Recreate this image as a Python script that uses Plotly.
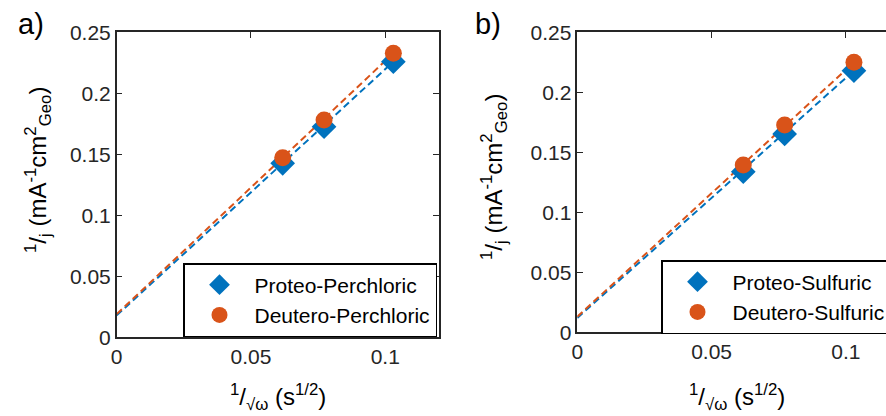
import plotly.graph_objects as go

# ---------------- data ----------------
inv_sqrt_omega = [0.0618, 0.0772, 0.1030]          # 1/sqrt(w) (s^1/2)

proteo_perchloric = [0.1426, 0.1726, 0.2259]
deutero_perchloric = [0.1472, 0.1781, 0.2328]
proteo_sulfuric = [0.1338, 0.1653, 0.2180]
deutero_sulfuric = [0.1394, 0.1728, 0.2250]

# linear fits (intercept, slope)
fit_a_proteo = (0.0180, 2.018)
fit_a_deutero = (0.0190, 2.076)
fit_b_proteo = (0.0120, 2.000)
fit_b_deutero = (0.0130, 2.058)
fit_x = [0.0, 0.1030]

x_ticks = [0, 0.05, 0.1]
x_tick_text = ["0", "0.05", "0.1"]
y_ticks = [0, 0.05, 0.1, 0.15, 0.2, 0.25]
y_tick_text = ["0", "0.05", "0.1", "0.15", "0.2", "0.25"]

BLUE = "#0072BD"
ORANGE = "#D95319"
AX = "#262626"
FONT = "Liberation Sans, Arial, sans-serif"

W, H = 886, 416

fig = go.Figure()


def line_y(fit, xs):
    return [fit[0] + fit[1] * x for x in xs]


panels = [
    ("x", "y", fit_a_proteo, fit_a_deutero, proteo_perchloric, deutero_perchloric,
     "Proteo-Perchloric", "Deutero-Perchloric", "legend"),
    ("x2", "y2", fit_b_proteo, fit_b_deutero, proteo_sulfuric, deutero_sulfuric,
     "Proteo-Sulfuric", "Deutero-Sulfuric", "legend2"),
]

for xa, ya, fp, fd, yp, yd, np_, nd, lg in panels:
    fig.add_trace(go.Scatter(x=fit_x, y=line_y(fp, fit_x), mode="lines",
                             line=dict(color=BLUE, width=2, dash="7px,4px"),
                             xaxis=xa, yaxis=ya, showlegend=False, hoverinfo="skip"))
    fig.add_trace(go.Scatter(x=fit_x, y=line_y(fd, fit_x), mode="lines",
                             line=dict(color=ORANGE, width=2, dash="7px,4px"),
                             xaxis=xa, yaxis=ya, showlegend=False, hoverinfo="skip"))
    fig.add_trace(go.Scatter(x=inv_sqrt_omega, y=yp, mode="markers", name=np_,
                             marker=dict(symbol="diamond", size=19, color=BLUE),
                             xaxis=xa, yaxis=ya, legend=lg))
    fig.add_trace(go.Scatter(x=inv_sqrt_omega, y=yd, mode="markers", name=nd,
                             marker=dict(symbol="circle", size=17, color=ORANGE),
                             xaxis=xa, yaxis=ya, legend=lg))

# plot areas in pixels
a_left, a_right, a_top, a_bot = 116.7, 439.0, 32.3, 337.3
b_left, b_top, b_bot = 577.3, 32.3, 332.3
px_per_x = (a_right - a_left) / 0.12
b_xmax = (W - b_left) / px_per_x

axis_common = dict(showline=True, linecolor=AX, linewidth=1.5, ticks="inside",
                   ticklen=6, tickwidth=1.2, tickcolor=AX, showgrid=False,
                   zeroline=False, tickfont=dict(family=FONT, size=21, color=AX))

legend_common = dict(xanchor="left", yanchor="middle", bordercolor="black",
                     borderwidth=1.5, bgcolor="white",
                     font=dict(family=FONT, size=21, color="black"),
                     itemwidth=60, tracegroupgap=0)

fig.update_layout(
    width=W, height=H,
    margin=dict(l=0, r=0, t=0, b=0, autoexpand=False),
    paper_bgcolor="white", plot_bgcolor="white",
    font=dict(family=FONT, color="black"),
    xaxis=dict(domain=[a_left / W, a_right / W], range=[0, 0.12], anchor="y",
               tickvals=x_ticks, ticktext=x_tick_text, mirror="ticks", **axis_common),
    yaxis=dict(domain=[1 - a_bot / H, 1 - a_top / H], range=[0, 0.25], anchor="x",
               tickvals=y_ticks, ticktext=y_tick_text, mirror="ticks", **axis_common),
    xaxis2=dict(domain=[b_left / W, 1.0], range=[0, b_xmax], anchor="y2",
                tickvals=x_ticks, ticktext=x_tick_text, mirror="ticks", **axis_common),
    yaxis2=dict(domain=[1 - b_bot / H, 1 - b_top / H], range=[0, 0.25], anchor="x2",
                tickvals=y_ticks, ticktext=y_tick_text, mirror=False, **axis_common),
    legend=dict(x=183 / W, y=1 - 300 / H, **legend_common),
    legend2=dict(x=661 / W, y=1 - 297 / H, **legend_common),
    showlegend=True,
)

ytitle = "<sup>1</sup>/<sub>j</sub> (mA<sup>-1</sup>cm<sup>2</sup><sub>Geo</sub>)"
xtitle = "<sup>1</sup>/<sub>√ω</sub> (s<sup>1/2</sup>)"
ann_font = dict(family=FONT, size=24, color="black")
for x, y, t, ang in [(38, 170, ytitle, -90), (494, 177, ytitle, -90),
                     (278, 397, xtitle, 0), (737, 397, xtitle, 0)]:
    fig.add_annotation(x=x / W, y=1 - y / H, xref="paper", yref="paper", text=t,
                       textangle=ang, showarrow=False, font=ann_font,
                       xanchor="center", yanchor="middle")

for x, y, t in [(31, 24, "a)"), (488, 24, "b)")]:
    fig.add_annotation(x=x / W, y=1 - y / H, xref="paper", yref="paper", text=t,
                       showarrow=False, font=dict(family=FONT, size=29, color="black"),
                       xanchor="center", yanchor="middle")

fig.write_html("out.html",
               config={"displayModeBar": False},
               post_script="document.body.style.margin='0';"
                           "document.body.style.overflow='hidden';")
